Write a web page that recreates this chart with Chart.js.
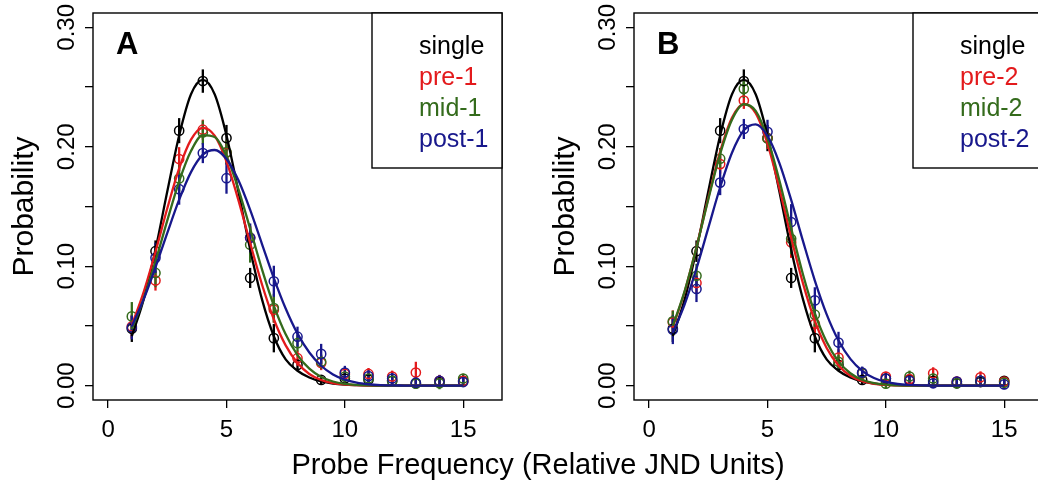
<!DOCTYPE html>
<html>
<head>
<meta charset="utf-8">
<script src="https://cdn.jsdelivr.net/npm/chart.js@4.4.1/dist/chart.umd.min.js"></script>
<style>
  html, body { margin: 0; padding: 0; background: #fff; overflow: hidden; width: 1038px; height: 483px; }
  #wrapA { position: absolute; left: 0; top: 0; width: 1038px; height: 483px; }
  #wrapB { position: absolute; left: 541px; top: 0; width: 519px; height: 483px; }
</style>
</head>
<body>
<div id="wrapA"><canvas id="chartA" width="1038" height="483"></canvas></div>
<div id="wrapB"><canvas id="chartB" width="519" height="483"></canvas></div>

<script>
// ---- data ---------------------------------------------------------------
const probeX = [1, 2, 3, 4, 5, 6, 7, 8, 9, 10, 11, 12, 13, 14, 15];
const curveX = [1, 1.5, 2, 2.5, 3, 3.5, 4, 4.5, 5, 5.5, 6, 6.5, 7, 7.5, 8, 8.5, 9, 9.5, 10, 10.5, 11, 11.5, 12, 12.5, 13, 13.5, 14, 14.5, 15];

const xTickVals = [0, 5, 10, 15];
const xTickLabels = ['0', '5', '10', '15'];
const yTickVals = [0, 0.1, 0.2, 0.3];
const yTickLabels = ['0.00', '0.10', '0.20', '0.30'];

const labelsA = ['single', 'pre-1', 'mid-1', 'post-1'];
const labelsB = ['single', 'pre-2', 'mid-2', 'post-2'];

// observed probabilities
const singlePts = [0.0476, 0.1126, 0.2135, 0.2550, 0.2073, 0.0902, 0.0398, 0.0174, 0.0048, 0.0060, 0.0050, 0.0040, 0.0020, 0.0030, 0.0040];
const pre1Pts   = [0.0496, 0.0880, 0.1897, 0.2143, 0.1950, 0.1238, 0.0636, 0.0230, 0.0190, 0.0098, 0.0098, 0.0076, 0.0110, 0.0040, 0.0040];
const mid1Pts   = [0.0580, 0.0944, 0.1734, 0.2120, 0.1955, 0.1180, 0.0650, 0.0356, 0.0200, 0.0076, 0.0060, 0.0040, 0.0017, 0.0020, 0.0060];
const post1Pts  = [0.0487, 0.1070, 0.1645, 0.1947, 0.1737, 0.1238, 0.0874, 0.0410, 0.0266, 0.0110, 0.0080, 0.0060, 0.0025, 0.0040, 0.0030];
const pre2Pts   = [0.0530, 0.0860, 0.1855, 0.2387, 0.2073, 0.1200, 0.0518, 0.0235, 0.0104, 0.0076, 0.0055, 0.0104, 0.0035, 0.0070, 0.0035];
const mid2Pts   = [0.0538, 0.0920, 0.1900, 0.2485, 0.2070, 0.1230, 0.0594, 0.0200, 0.0104, 0.0017, 0.0076, 0.0060, 0.0020, 0.0040, 0.0025];
const post2Pts  = [0.0468, 0.0810, 0.1700, 0.2149, 0.2126, 0.1370, 0.0714, 0.0361, 0.0110, 0.0060, 0.0040, 0.0020, 0.0035, 0.0040, 0.0010];

// error bar half-lengths
const singleErr = [0.011, 0.009, 0.0105, 0.0098, 0.011, 0.0084, 0.0119, 0.005, 0.004, 0.003, 0.003, 0.003, 0.003, 0.003, 0.003];
const pre1Err   = [0.010, 0.0084, 0.010, 0.0084, 0.010, 0.010, 0.011, 0.0063, 0.006, 0.005, 0.005, 0.005, 0.009, 0.005, 0.004];
const mid1Err   = [0.012, 0.012, 0.011, 0.010, 0.010, 0.015, 0.012, 0.007, 0.006, 0.004, 0.004, 0.004, 0.004, 0.005, 0.004];
const post1Err  = [0.010, 0.0126, 0.013, 0.0084, 0.013, 0.012, 0.013, 0.0084, 0.0084, 0.0056, 0.005, 0.005, 0.005, 0.005, 0.004];
const pre2Err   = [0.010, 0.009, 0.008, 0.007, 0.009, 0.013, 0.010, 0.007, 0.005, 0.004, 0.004, 0.005, 0.004, 0.005, 0.004];
const mid2Err   = [0.009, 0.010, 0.009, 0.0077, 0.008, 0.013, 0.010, 0.006, 0.005, 0.004, 0.005, 0.004, 0.004, 0.004, 0.004];
const post2Err  = [0.012, 0.011, 0.0105, 0.0084, 0.010, 0.015, 0.011, 0.009, 0.005, 0.004, 0.004, 0.004, 0.004, 0.005, 0.004];

// fitted curves
const singleFit = [0.0414, 0.0722, 0.1140, 0.1627, 0.2095, 0.2440, 0.2560, 0.2440, 0.2095, 0.1627, 0.1140, 0.0722, 0.0414, 0.0220, 0.0125, 0.0068, 0.0035, 0.0017, 0.0008, 0.0004, 0.0002, 0.0001, 0, 0, 0, 0, 0, 0, 0];
const pre1Fit   = [0.0506, 0.0784, 0.1121, 0.1485, 0.1819, 0.2060, 0.2159, 0.2093, 0.1876, 0.1556, 0.1194, 0.0847, 0.0556, 0.0337, 0.0189, 0.0098, 0.0047, 0.0021, 0.0009, 0.0004, 0.0001, 0, 0, 0, 0, 0, 0, 0, 0];
const mid1Fit   = [0.0473, 0.0727, 0.1040, 0.1384, 0.1710, 0.1964, 0.2098, 0.2082, 0.1922, 0.1648, 0.1314, 0.0974, 0.0671, 0.0430, 0.0256, 0.0142, 0.0073, 0.0035, 0.0015, 0.0006, 0.0002, 0.0001, 0, 0, 0, 0, 0, 0, 0];
const post1Fit  = [0.0498, 0.0723, 0.0991, 0.1279, 0.1557, 0.1788, 0.1934, 0.1973, 0.1898, 0.1721, 0.1472, 0.1186, 0.0901, 0.0646, 0.0436, 0.0278, 0.0167, 0.0094, 0.0050, 0.0025, 0.0012, 0.0005, 0.0002, 0.0001, 0, 0, 0, 0, 0];
const pre2Fit   = [0.0490, 0.0786, 0.1160, 0.1572, 0.1959, 0.2242, 0.2359, 0.2281, 0.2026, 0.1654, 0.1241, 0.0856, 0.0542, 0.0316, 0.0169, 0.0083, 0.0038, 0.0016, 0.0006, 0.0002, 0.0001, 0, 0, 0, 0, 0, 0, 0, 0];
const mid2Fit   = [0.0500, 0.0792, 0.1158, 0.1561, 0.1941, 0.2227, 0.2356, 0.2300, 0.2071, 0.1720, 0.1318, 0.0931, 0.0607, 0.0365, 0.0203, 0.0104, 0.0049, 0.0021, 0.0009, 0.0003, 0.0001, 0, 0, 0, 0, 0, 0, 0, 0];
const post2Fit  = [0.0441, 0.0681, 0.0981, 0.1321, 0.1661, 0.1950, 0.2138, 0.2188, 0.2091, 0.1866, 0.1555, 0.1210, 0.0880, 0.0597, 0.0378, 0.0224, 0.0124, 0.0064, 0.0031, 0.0014, 0.0006, 0.0002, 0.0001, 0, 0, 0, 0, 0, 0];

const colors = ['#000000', '#E31A1C', '#346B1C', '#18188C'];
const FONT = "'Liberation Sans', Arial, Helvetica, sans-serif";

// ---- helpers ------------------------------------------------------------
function pairs(xs, ys) {
  return xs.map((x, i) => ({ x: x, y: ys[i] }));
}

function buildDatasets(pts, fits) {
  const curves = [], marks = [];
  for (let i = 3; i >= 0; i--) {
    curves.push({
      data: pairs(curveX, fits[i]),
      showLine: true,
      borderColor: colors[i],
      borderWidth: 2.3,
      pointRadius: 0,
      cubicInterpolationMode: 'monotone'
    });
    marks.push({
      data: pairs(probeX, pts[i]),
      showLine: false,
      pointStyle: 'circle',
      pointRadius: 4.6,
      pointBorderWidth: 1.5,
      borderColor: colors[i],
      backgroundColor: 'rgba(0,0,0,0)'
    });
  }
  return curves.concat(marks);
}

// error bars under the marks
function errorBars(pts, errs) {
  return {
    id: 'errorBars',
    beforeDatasetsDraw(chart) {
      const ctx = chart.ctx, xs = chart.scales.x, ys = chart.scales.y;
      ctx.save();
      ctx.lineWidth = 2.3;
      for (let i = 0; i < 4; i++) {
        ctx.strokeStyle = colors[i];
        probeX.forEach((x, j) => {
          const px = xs.getPixelForValue(x);
          ctx.beginPath();
          ctx.moveTo(px, ys.getPixelForValue(pts[i][j] - errs[i][j]));
          ctx.lineTo(px, ys.getPixelForValue(pts[i][j] + errs[i][j]));
          ctx.stroke();
        });
      }
      ctx.restore();
    }
  };
}

// frame, tick labels, titles, legend
function decorations(letter, names, withXTitle) {
  return {
    id: 'decorations',
    afterDraw(chart) {
      const ctx = chart.ctx, ca = chart.chartArea;
      const xs = chart.scales.x, ys = chart.scales.y;
      ctx.save();
      ctx.strokeStyle = '#000';
      ctx.lineWidth = 1.4;
      ctx.strokeRect(ca.left, ca.top, ca.right - ca.left, ca.bottom - ca.top);

      // legend box
      ctx.fillStyle = '#fff';
      ctx.fillRect(ca.right - 130, ca.top, 130, 155);
      ctx.strokeRect(ca.right - 130, ca.top, 130, 155);
      ctx.font = '25px ' + FONT;
      ctx.textAlign = 'left';
      ctx.textBaseline = 'alphabetic';
      names.forEach((n, i) => {
        ctx.fillStyle = colors[i];
        ctx.fillText(n, ca.right - 83, ca.top + 41 + i * 31);
      });

      ctx.fillStyle = '#000';
      ctx.font = '24px ' + FONT;
      ctx.textAlign = 'center';
      xTickVals.forEach((v, i) => {
        ctx.fillText(xTickLabels[i], xs.getPixelForValue(v), ca.bottom + 37);
      });
      yTickVals.forEach((v, i) => {
        ctx.save();
        ctx.translate(ca.left - 19, ys.getPixelForValue(v));
        ctx.rotate(-Math.PI / 2);
        ctx.fillText(yTickLabels[i], 0, 0);
        ctx.restore();
      });

      ctx.font = '30px ' + FONT;
      ctx.save();
      ctx.translate(33, (ca.top + ca.bottom) / 2);
      ctx.rotate(-Math.PI / 2);
      ctx.fillText('Probability', 0, 0);
      ctx.restore();

      ctx.font = 'bold 31px ' + FONT;
      ctx.textAlign = 'left';
      ctx.fillText(letter, 116, 54);

      if (withXTitle) {
        ctx.font = '29px ' + FONT;
        ctx.textAlign = 'center';
        ctx.fillText('Probe Frequency (Relative JND Units)', 538, 474);
      }
      ctx.restore();
    }
  };
}

function makeChart(id, pts, errs, fits, letter, names, padRight, withXTitle) {
  return new Chart(document.getElementById(id), {
    type: 'scatter',
    data: { datasets: buildDatasets(pts, fits) },
    options: {
      responsive: false,
      animation: false,
      events: [],
      layout: { padding: { top: 13, right: padRight, bottom: 0, left: 0 } },
      plugins: { legend: { display: false }, tooltip: { enabled: false } },
      scales: {
        x: {
          type: 'linear',
          min: -0.64,
          max: 16.64,
          ticks: { display: false, stepSize: 5, includeBounds: false },
          grid: { drawOnChartArea: false, drawTicks: true, tickLength: 8, color: '#000', lineWidth: 1.3 },
          border: { display: false },
          afterFit(scale) { scale.height = 83; }
        },
        y: {
          type: 'linear',
          min: -0.012,
          max: 0.312,
          ticks: { display: false, stepSize: 0.05, includeBounds: false },
          grid: { drawOnChartArea: false, drawTicks: true, tickLength: 8, color: '#000', lineWidth: 1.3 },
          border: { display: false },
          afterFit(scale) { scale.width = 93; }
        }
      }
    },
    plugins: [errorBars(pts, errs), decorations(letter, names, withXTitle)]
  });
}

makeChart('chartA',
  [singlePts, pre1Pts, mid1Pts, post1Pts],
  [singleErr, pre1Err, mid1Err, post1Err],
  [singleFit, pre1Fit, mid1Fit, post1Fit],
  'A', labelsA, 536, true);

makeChart('chartB',
  [singlePts, pre2Pts, mid2Pts, post2Pts],
  [singleErr, pre2Err, mid2Err, post2Err],
  [singleFit, pre2Fit, mid2Fit, post2Fit],
  'B', labelsB, 17, false);
</script>
</body>
</html>
